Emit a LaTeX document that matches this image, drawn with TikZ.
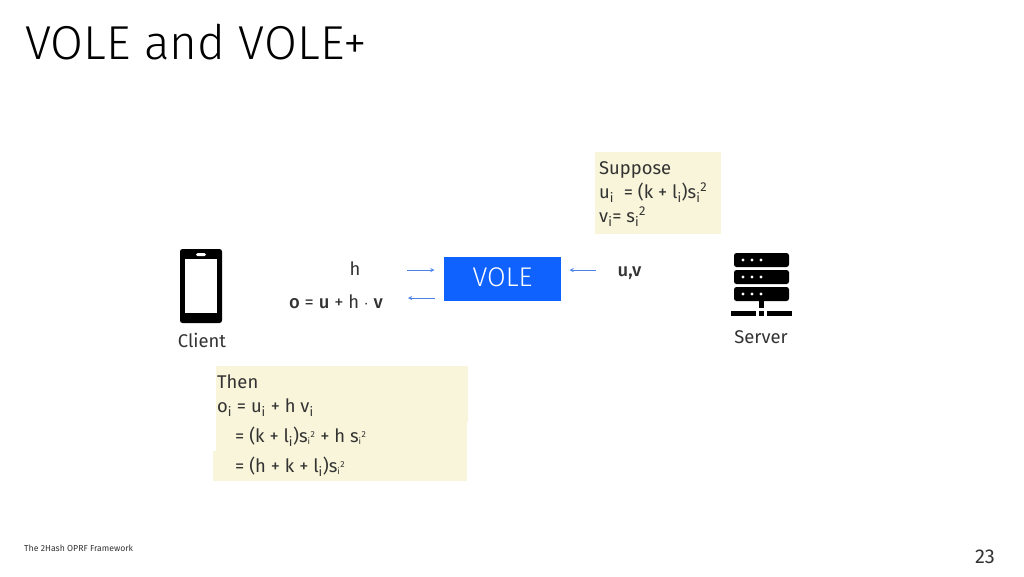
\documentclass[tikz,border=0pt]{standalone}
\usepackage{fontspec}
\setmainfont{Fira Sans}
\newfontfamily\lightfont{Fira Sans}[UprightFont=* Light]
\newfontfamily\medfont{Fira Sans}[UprightFont=* Medium]
\definecolor{notecol}{HTML}{F9F5DA}
\definecolor{volecol}{HTML}{0F62FE}
\definecolor{arrowcol}{HTML}{4A80E8}
\definecolor{inkcol}{HTML}{333333}
\newcommand{\lowi}{\textsubscript{i}}
\newcommand{\sqi}{\textsuperscript{2}}
\newcommand{\lowsq}{{\fontsize{12.5}{12.5}\selectfont\textsubscript{i}\textsuperscript{2}}}
\tikzset{
	note/.style={fill=notecol,draw=none},
	line/.style={anchor=base west,inner sep=0pt,text=inkcol,font=\fontsize{18.4}{19}\selectfont},
	label/.style={anchor=base,inner sep=0pt,text=inkcol,font=\fontsize{18.4}{19}\selectfont},
	flow/.style={->,>=stealth,arrowcol,line width=0.9pt},
}
\begin{document}
\begin{tikzpicture}[x=1pt,y=-1pt]
	\useasboundingbox (0,0) rectangle (1024,576);
	\node[anchor=base west,inner sep=0pt,text=black,font=\lightfont\fontsize{47.6}{48}\selectfont] (title) at (25,59) {VOLE and VOLE+};
	% notes behind the text
	\fill[note] (595,152) rectangle (721,234);
	\fill[note] (216,366) rectangle (468,422);
	\fill[note] (216,422) rectangle (467,451);
	\fill[note] (213,451) rectangle (467,481);
	\node[line] (suppose) at (599,174) {Suppose};
	\node[line] (ueq) at (599,198) {u\lowi\ \ = (k + l\lowi)s\lowi\sqi};
	\node[line] (veq) at (599,222) {v\lowi= s\lowi\sqi};
	\node[line] (then) at (217,388) {Then};
	\node[line] (oeq) at (217,412) {o\lowi\ = u\lowi\ + h v\lowi};
	\node[line] (expa) at (235,442) {= (k + l\lowi)s\lowsq\ + h s\lowsq};
	\node[line] (expb) at (235,472) {= (h + k + l\lowi)s\lowsq};
	% client phone
	\fill[black,rounded corners=2.5pt] (180,249) rectangle (222,323);
	\fill[white] (185,259) rectangle (217,313);
	\fill[white,rounded corners=1.5pt] (196,253) rectangle (206,256);
	\node[label] (client) at (202,347) {Client};
	% server rack
	\foreach \y in {253,270,287} {
		\fill[black,rounded corners=2.5pt] (734,\y) rectangle (789,\y+14);
		\foreach \x in {743,752,761} \fill[white] (\x,\y+7) circle (1.6pt);
	}
	\fill[black] (758.5,301) rectangle (763.5,308);
	\fill[black] (731,311) rectangle (756,316);
	\fill[black] (759,311) rectangle (764,316);
	\fill[black] (767,311) rectangle (792,316);
	\node[label] (server) at (761,343) {Server};
	% middle row
	\node[fill=volecol,text=white,inner sep=0pt,minimum width=117pt,minimum height=44pt,text height=18pt,text depth=4pt,font=\lightfont\fontsize{27}{27}\selectfont] (vole) at (502.5,279) {VOLE};
	\node[label] (hin) at (355,275) {h};
	\node[label] (oout) at (336,308) {{\medfont o} = {\medfont u} + h $\cdot$ {\medfont v}};
	\node[label,font=\medfont\fontsize{18.4}{19}\selectfont] (uv) at (629.5,276) {u,v};
	\coordinate (hs) at (407,270);
	\coordinate (he) at (434.5,270);
	\coordinate (os) at (435,298);
	\coordinate (oe) at (408,298);
	\coordinate (us) at (596,270);
	\coordinate (ue) at (569.5,270);
	\draw[flow] (hs)--(he);
	\draw[flow] (os)--(oe);
	\draw[flow] (us)--(ue);
	% footer
	\node[anchor=base west,inner sep=0pt,text=inkcol,font=\fontsize{8.7}{9}\selectfont] (footer) at (24,551) {The 2Hash OPRF Framework};
	\node[anchor=base,inner sep=0pt,text=inkcol,font=\fontsize{20}{20}\selectfont] (pagenum) at (985,563) {23};
\end{tikzpicture}
\end{document}
